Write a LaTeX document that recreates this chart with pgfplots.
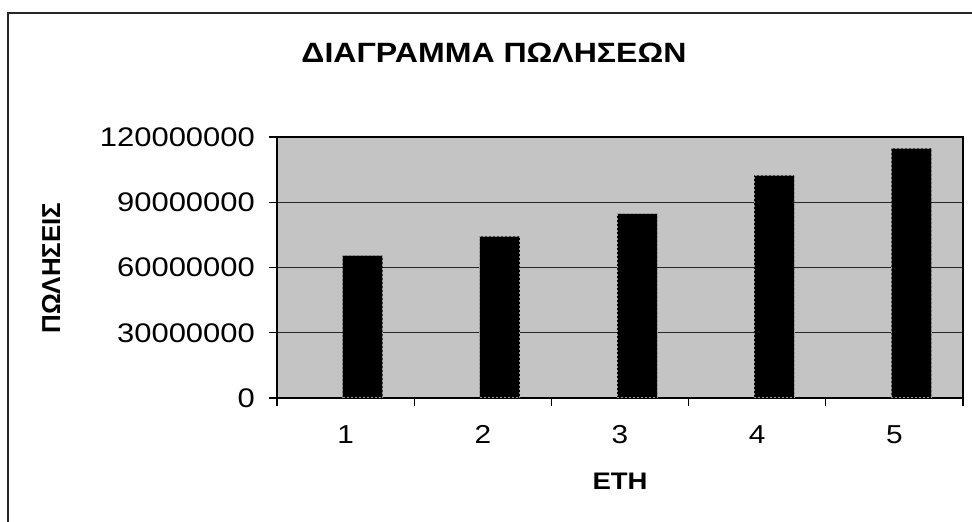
\documentclass[border=0pt]{standalone}
\usepackage{pgfplots}
\pgfplotsset{compat=1.18}
\usepackage{fontspec}
\usepackage{graphicx}
\setmainfont{Liberation Sans}
\newcommand\hs[1]{\scalebox{1.15}[1]{#1}}
\begin{document}
\begin{tikzpicture}
\useasboundingbox (0,0) rectangle (972bp,522bp);
\draw[line width=1.5bp, black!85] (8bp,-5bp) -- (8bp,509bp) -- (980bp,509bp);
\node[font=\bfseries\fontsize{28}{32}\selectfont] at (494bp,469bp) {\hs{ΔΙΑΓΡΑΜΜΑ ΠΩΛΗΣΕΩΝ}};
\node[font=\bfseries\fontsize{26}{30}\selectfont, rotate=90] at (51bp,254bp) {ΠΩΛΗΣΕΙΣ};
\node[font=\bfseries\fontsize{24}{28}\selectfont] at (620bp,41bp) {\hs{ΕΤΗ}};
\begin{axis}[
  at={(277bp,124bp)}, anchor=south west,
  scale only axis, width=686bp, height=261bp,
  xmin=0.5, xmax=5.5, ymin=0, ymax=120000000,
  ybar, bar width=40bp,
  xtick pos=bottom, ytick pos=left,
  xtick={0.5,1.5,2.5,3.5,4.5,5.5}, xticklabels={},
  extra x ticks={1,2,3,4,5},
  extra x tick labels={\hs{1},\hs{2},\hs{3},\hs{4},\hs{5}},
  extra x tick style={major tick length=0pt, grid=none},
  ytick={0,30000000,60000000,90000000,120000000},
  scaled y ticks=false,
  /pgf/number format/assume math mode=true,
  yticklabel={\hs{\pgfmathprintnumber[fixed,precision=0,1000 sep={}]{\tick}}},
  yticklabel style={font=\fontsize{27}{30}\selectfont, inner sep=0pt},
  xticklabel style={font=\fontsize{26}{30}\selectfont, inner sep=0pt},
  yticklabel shift=14bp,
  xticklabel shift=27bp,
  ymajorgrids, xmajorgrids=false,
  grid style={black!85, line width=1.4bp},
  tick align=outside, major tick length=8bp,
  tick style={black, line width=1.2bp},
  axis line style={black, line width=1.5bp},
  axis background/.style={fill=black!23},
]
\addplot[fill=black, draw=black!40, dash pattern=on 2bp off 2bp, line width=1bp, bar shift=17bp]
  coordinates {(1,65500000) (2,74300000) (3,84600000) (4,102400000) (5,114800000)};
\end{axis}
\end{tikzpicture}
\end{document}
